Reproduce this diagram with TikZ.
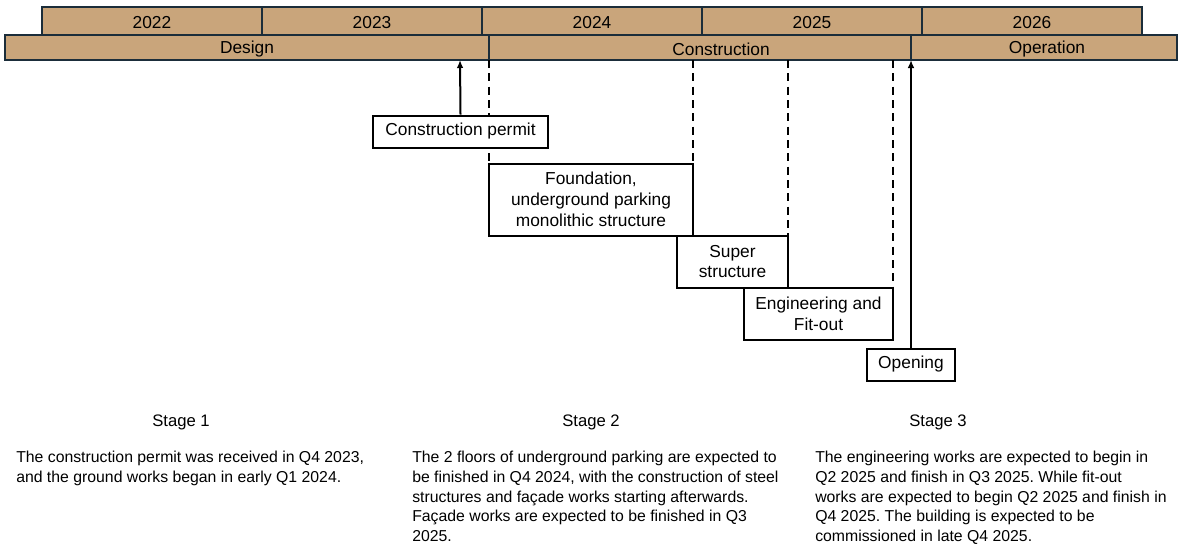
\documentclass[tikz,border=0pt]{standalone}
\usepackage{fontspec}
\setmainfont{Liberation Sans}
\frenchspacing
\usetikzlibrary{arrows.meta}
\definecolor{tan}{RGB}{201,165,123}
\definecolor{navy}{RGB}{27,45,58}
\tikzset{
  bar/.style={draw=navy,line width=1.6pt,fill=tan},
  box/.style={draw=black,line width=1.5pt,fill=white,inner sep=0pt,align=center,font=\fontsize{13}{15.6}\selectfont},
  guide/.style={black,line width=1.3pt,dash pattern=on 6pt off 4pt},
  arr/.style={black,line width=1.5pt,-{Latex[length=6pt,width=5pt]}},
  lbl/.style={font=\fontsize{13}{15}\selectfont},
  stg/.style={font=\fontsize{12.5}{15}\selectfont},
  para/.style={font=\fontsize{11.85}{14.75}\selectfont,align=left,inner sep=0pt,anchor=north west}
}
\begin{document}
\begin{tikzpicture}[x=0.75pt,y=-0.75pt]
\useasboundingbox (0,0) rectangle (1180,544);
% year row
\foreach \i/\yr in {0/2022,1/2023,2/2024,3/2025,4/2026}{
  \draw[bar] ({42+220*\i},7) rectangle ({262+220*\i},35);
  \node[lbl] (y\yr) at ({152+220*\i},23) {\yr};
}
% phase row
\draw[bar] (5,35) rectangle (489,60);
\node[lbl] (design) at (247,49) {Design};
\draw[bar] (489,35) rectangle (911,60);
\node[lbl] (constr) at (721,49) {Construction};
\draw[bar] (911,35) rectangle (1177,60);
\node[lbl] (oper) at (1047,49) {Operation};
% guide coordinates at bottom of phase bar
\coordinate (g1) at (489,60);
\coordinate (g2) at (693,60);
\coordinate (g3) at (788,60);
\coordinate (g4) at (893,60);
\coordinate (a1) at (460,60);
\coordinate (a2) at (911,60);
% dashed guides
\draw[guide] (g1) -- (489,163);
\draw[guide] (g2) -- (693,163);
\draw[guide] (g3) -- (788,235);
\draw[guide] (g4) -- (893,287);
% boxes
\node[box,minimum width=175*0.75pt,minimum height=32*0.75pt] (permit) at (460.5,131.5) {Construction permit};
\node[box,minimum width=204*0.75pt,minimum height=72*0.75pt] (found) at (591,199.5) {Foundation,\\underground parking\\monolithic structure};
\node[box,minimum width=111*0.75pt,minimum height=52*0.75pt] (super) at (732.5,261.5) {Super\\structure};
\node[box,minimum width=149*0.75pt,minimum height=52*0.75pt] (eng) at (818.5,313.5) {Engineering and\\Fit-out};
\node[box,minimum width=88*0.75pt,minimum height=32*0.75pt] (open) at (911,364.5) {Opening};
% arrows
\draw[arr] (permit.north) -- (a1);
\draw[arr] (open.north) -- (a2);
% stages
\node[stg] (s1) at (181,422) {Stage 1};
\node[stg] (s2) at (591,422) {Stage 2};
\node[stg] (s3) at (938,422) {Stage 3};
\node[para] (p1) at (16,451) {The construction permit was received in Q4 2023,\\and the ground works began in early Q1 2024.};
\node[para] (p2) at (412,451) {The 2 floors of underground parking are expected to\\be finished in Q4 2024, with the construction of steel\\structures and façade works starting afterwards.\\Façade works are expected to be finished in Q3\\2025.};
\node[para] (p3) at (815,451) {The engineering works are expected to begin in\\Q2 2025 and finish in Q3 2025. While fit-out\\works are expected to begin Q2 2025 and finish in\\Q4 2025. The building is expected to be\\commissioned in late Q4 2025.};
\end{tikzpicture}
\end{document}
